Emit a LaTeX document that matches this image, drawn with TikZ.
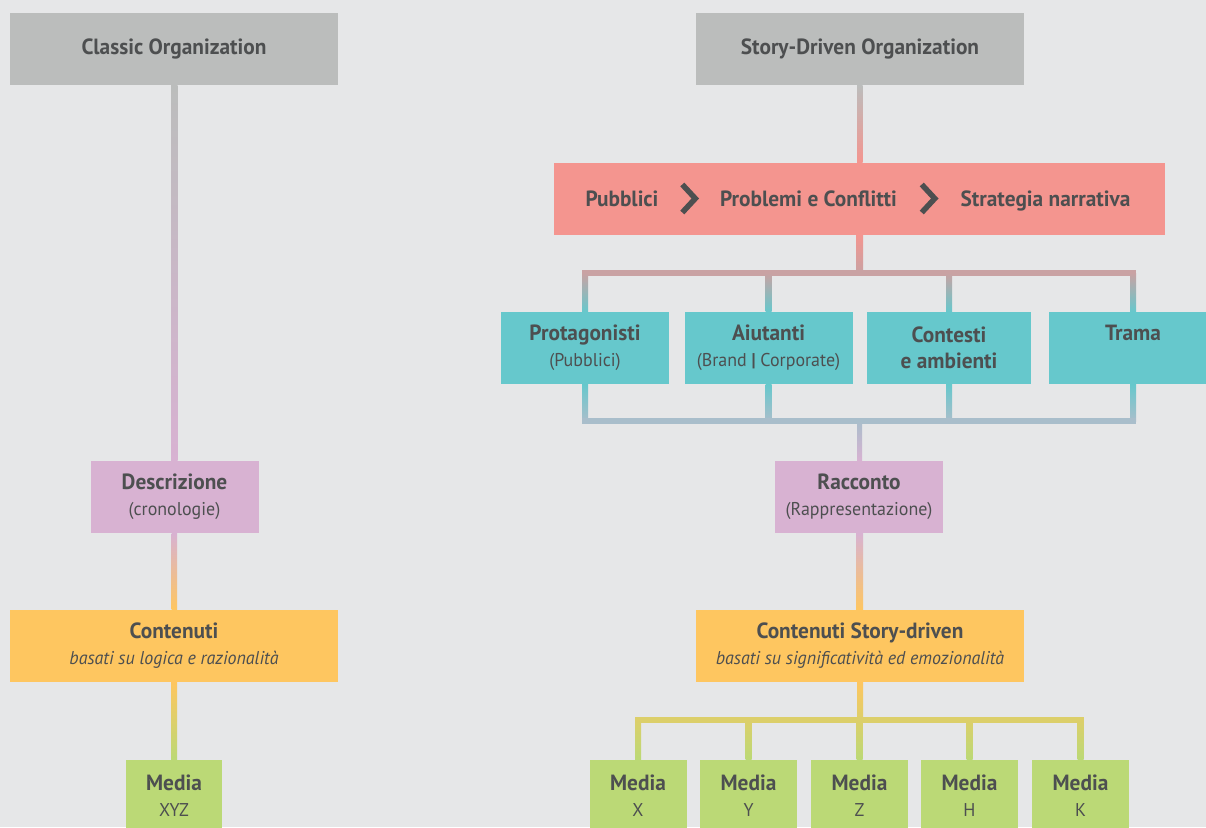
\documentclass[tikz,border=0pt]{standalone}
\usepackage{fontspec}
\setmainfont{PT Sans}[FakeStretch=0.97]
\usetikzlibrary{calc,positioning}

\definecolor{bgc}{HTML}{E6E7E8}
\definecolor{ink}{HTML}{4D4F50}
\definecolor{cgray}{HTML}{BBBDBC}
\definecolor{cred}{HTML}{F4958F}
\definecolor{cteal}{HTML}{66C8CC}
\definecolor{clav}{HTML}{D8B2D2}
\definecolor{corange}{HTML}{FEC660}
\definecolor{cgreen}{HTML}{BBD976}
\definecolor{barred}{HTML}{C9A2A3}
\definecolor{barblue}{HTML}{A9BECB}
\definecolor{baryel}{HTML}{DCCF6A}

\newcommand{\notefont}{\fontsize{18.5}{26}\selectfont\mdseries}
% vertical connector, shaded from one box colour to the next
\newcommand{\vlink}[4]{\shade[top color=#3,bottom color=#4]
  ([xshift=-3pt]#1) rectangle ([xshift=3pt]#2);}

\tikzset{
  box/.style={inner sep=0pt, minimum height=72pt, text=ink, align=center,
    font=\fontsize{22}{26}\selectfont\bfseries},
  wide/.style={box, minimum width=328pt},
  mid/.style={box, minimum width=168pt},
  media/.style={box, minimum width=97pt, fill=cgreen},
  step label/.style={inner sep=0pt, text=ink, anchor=base, text height=15pt,
    text depth=0pt, font=\fontsize{22}{26}\selectfont\bfseries},
  bar/.style={line width=6pt, line cap=rect},
  chev/.style={ink, line width=5.5pt, miter limit=10},
}

\begin{document}
\begin{tikzpicture}[x=1pt,y=-1pt]
  \fill[bgc] (0,0) rectangle (1206,827);
  \useasboundingbox (0,0) rectangle (1206,827);

  % ---- classic organization --------------------------------------------
  \node[wide, fill=cgray] (classic) at (174,49) {Classic Organization};
  \node[mid, fill=clav] (descr) at (174.5,497) {Descrizione\\{\notefont(cronologie)}};
  \node[wide, fill=corange] (cont) at (174,646)
        {Contenuti\\{\notefont\itshape basati su logica e razionalità}};
  \node[media, minimum width=96pt] (mxyz) at (174,796) {Media\\{\notefont XYZ}};

  \vlink{classic.south}{descr.north}{cgray}{clav}
  \vlink{descr.south}{cont.north}{clav}{corange}
  \vlink{cont.south}{mxyz.north}{corange}{cgreen}

  % ---- story-driven organization ---------------------------------------
  \node[wide, fill=cgray] (story) at (860,49) {Story-Driven Organization};
  \node[box, fill=cred, minimum width=611pt] (plot) at (859.5,198.5) {};
  \node[step label] (pub) at (622,206) {Pubblici};
  \node[step label] (prob) at (808.5,206) {Problemi e Conflitti};
  \node[step label] (strat) at (1045.5,206) {Strategia narrativa};
  \coordinate (ch1) at ($(pub.east)!0.5!(prob.west)$);
  \coordinate (ch2) at ($(prob.east)!0.5!(strat.west)$);
  \foreach \c in {ch1,ch2}
    \draw[chev] ($(\c)+(-7,-14)$) -- ($(\c)+(6,0)$) -- ($(\c)+(-7,14)$);

  \node[mid, fill=cteal] (prot) at (585,348) {Protagonisti\\{\notefont(Pubblici)}};
  \node[mid, fill=cteal] (aiut) at (768.5,348) {Aiutanti\\{\notefont(Brand \textbf{|} Corporate)}};
  \node[mid, fill=cteal, minimum width=164pt] (ctx) at (949,348) {Contesti\\e ambienti};
  \node[mid, fill=cteal] (trama) at (1133,348) {Trama\\{\notefont\phantom{(P)}}};

  \node[mid, fill=clav] (racc) at (859,497) {Racconto\\{\notefont(Rappresentazione)}};
  \node[wide, fill=corange] (sdcont) at (860,646)
        {Contenuti Story-driven\\{\notefont\itshape basati su significatività ed emozionalità}};

  \node[media] (mx) at (638,796) {Media\\{\notefont X}};
  \node[media] (my) at (748.5,796) {Media\\{\notefont Y}};
  \node[media] (mz) at (859.5,796) {Media\\{\notefont Z}};
  \node[media] (mh) at (969.5,796) {Media\\{\notefont H}};
  \node[media] (mk) at (1080.5,796) {Media\\{\notefont K}};

  % ---- connectors and brackets -----------------------------------------
  \coordinate (tb) at (860,273);
  \coordinate (bb) at (860,421);
  \coordinate (mb) at (860,720);

  \vlink{story.south}{plot.north}{cgray}{cred}
  \vlink{plot.south}{tb}{cred}{barred}
  \draw[bar, barred] (prot.north |- tb) -- (trama.north |- tb);
  \foreach \n in {prot,aiut,ctx,trama}{
    \coordinate (up-\n) at (\n.north |- tb);
    \coordinate (dn-\n) at (\n.south |- bb);
    \vlink{up-\n}{\n.north}{barred}{cteal}
    \vlink{\n.south}{dn-\n}{cteal}{barblue}
  }
  \draw[bar, barblue] (prot.south |- bb) -- (trama.south |- bb);
  \vlink{bb}{racc.north}{barblue}{clav}
  \vlink{racc.south}{sdcont.north}{clav}{corange}
  \vlink{sdcont.south}{mb}{corange}{baryel}
  \draw[bar, baryel] (mx.north |- mb) -- (mk.north |- mb);
  \foreach \n in {mx,my,mz,mh,mk}{
    \coordinate (up-\n) at (\n.north |- mb);
    \vlink{up-\n}{\n.north}{baryel}{cgreen}
  }
\end{tikzpicture}
\end{document}
